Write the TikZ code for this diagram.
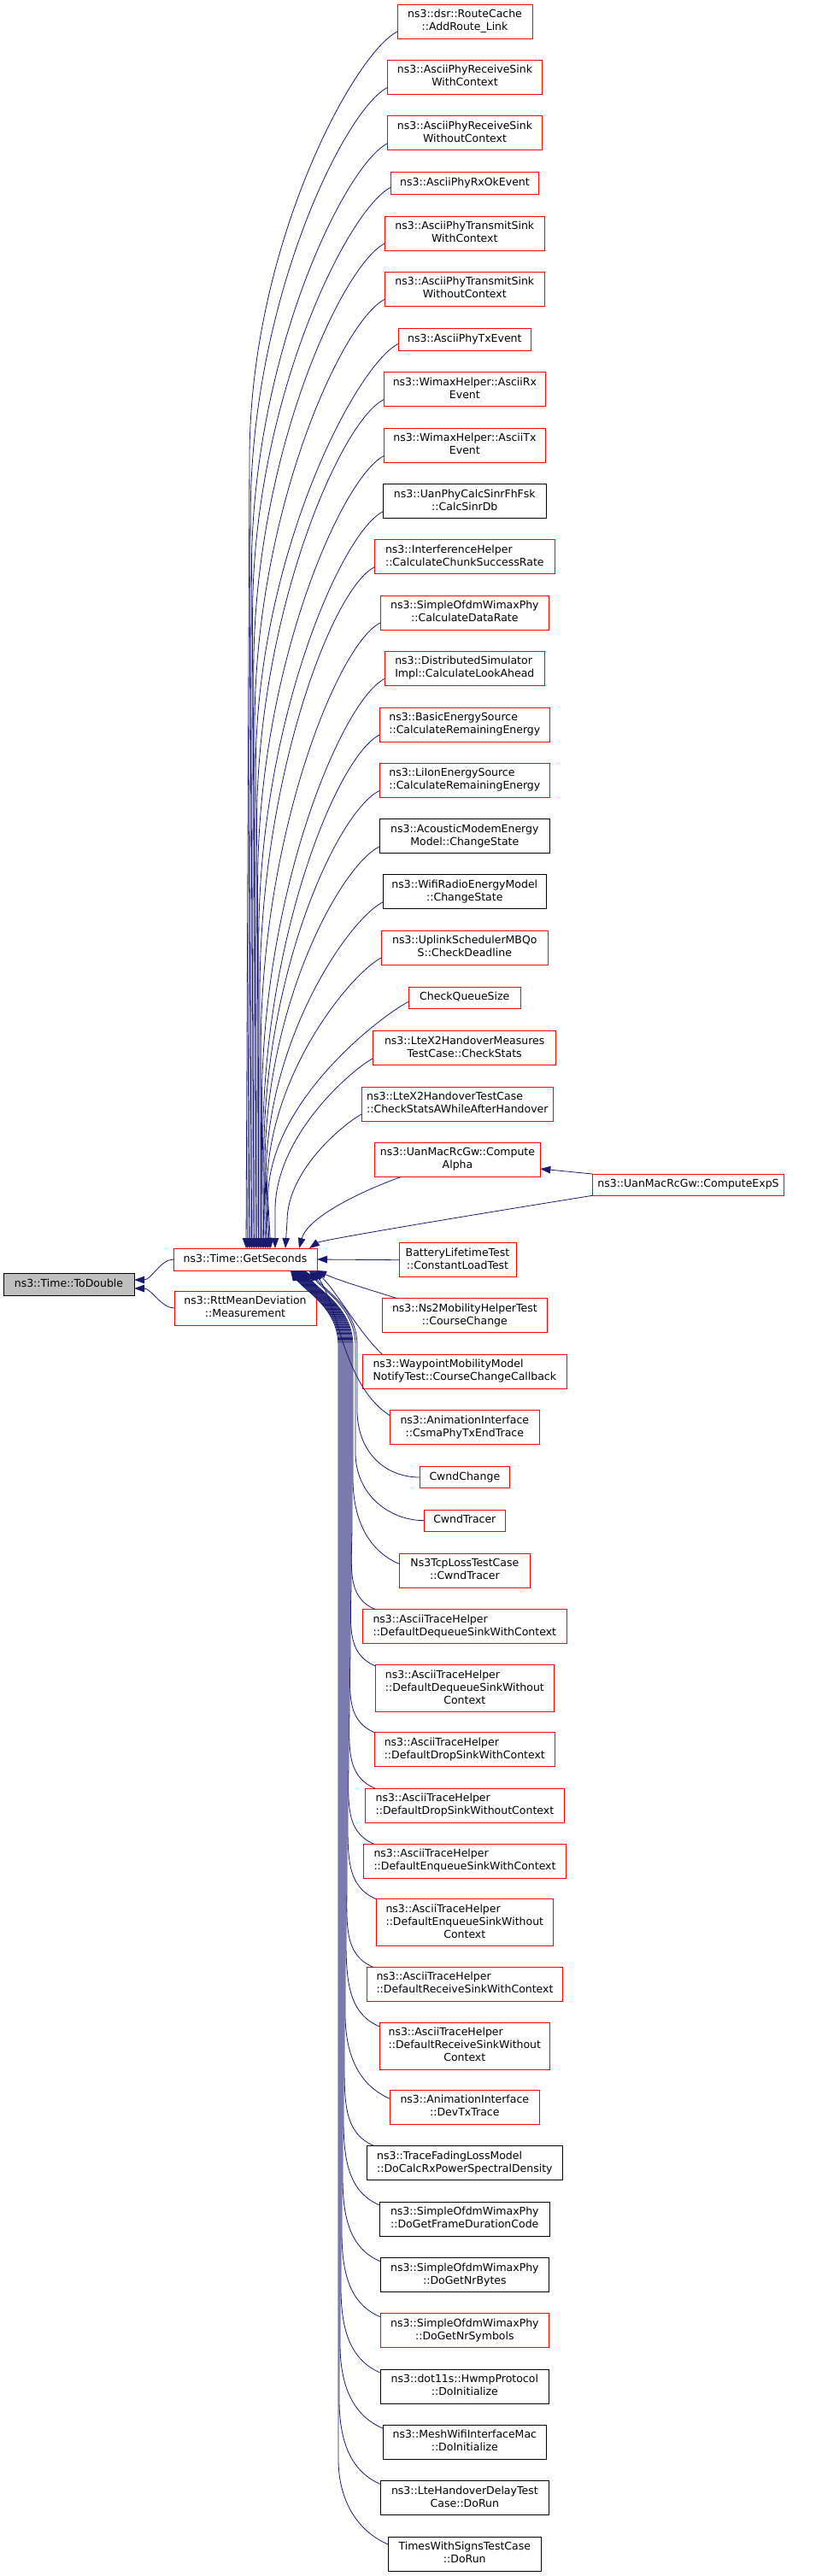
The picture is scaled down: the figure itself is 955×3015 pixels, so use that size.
\documentclass[tikz,border=0pt]{standalone}
\usepackage{fontspec}
\setmainfont{DejaVu Sans}
\usetikzlibrary{arrows.meta}
\definecolor{edgecol}{HTML}{191970}
\definecolor{redc}{HTML}{FF0000}
\definecolor{grayf}{HTML}{BFBFBF}
\newcommand\Lone[1]{\begin{tabular}{@{}c@{}}#1\end{tabular}}
\newcommand\Ltwo[2]{\begin{tabular}{@{}l@{}}#1\\\multicolumn{1}{@{}c@{}}{#2}\end{tabular}}
\newcommand\Lthree[3]{\begin{tabular}{@{}l@{}}#1\\#2\\\multicolumn{1}{@{}c@{}}{#3}\end{tabular}}
\newcommand\bx[7]{\node[#6, minimum width={#4pt-#2pt}, minimum height={#5pt-#3pt}] (#1) at ({(#2+#4)/2},{(#3+#5)/2}) {#7};}
\newcommand\uedge[4]{%
 \pgfmathsetmacro\uD{min(500,0.8*(1461-#4))}%
 \pgfmathsetmacro\uS{min(1,\uD/400)}%
 \draw[cedge] ([xshift=#2pt]gs.north west) -- (#3,{#4+\uD}) .. controls +(0,{-0.5*\uD}) and +({-50*\uS},{25*\uS}) .. ([yshift=8pt]#1.south west);}
\newcommand\ledge[5]{\draw[cedge] ([xshift=#2pt]gs.south west) .. controls +(15,23) and (#3,1530) .. (#3,1575) -- (#3,{#4-100}) .. controls +(0,50) and +(-35,-15) .. (#5);}
\tikzset{
 nd/.style={draw, line width=1pt, inner sep=0pt, outer sep=0pt, font=\fontsize{12.5}{15}\selectfont},
 rn/.style={nd, draw=redc, fill=white},
 bn/.style={nd, draw=black, fill=white},
 gn/.style={nd, draw=black, fill=grayf},
 cedge/.style={draw=edgecol, line width=0.8pt, {Triangle[length=12pt,width=8.5pt]}-},
}
\begin{document}
\begin{tikzpicture}[x=1pt,y=-1pt]
\useasboundingbox (0,0) rectangle (955,3015);
\bx{r1}{465}{5}{623}{45}{rn}{\Ltwo{ns3::dsr::RouteCache}{::AddRoute\_Link}}
\bx{r2}{453.7}{70.3}{634.3}{110.3}{rn}{\Ltwo{ns3::AsciiPhyReceiveSink}{WithContext}}
\bx{r3}{453.7}{135.7}{634.3}{175.7}{rn}{\Ltwo{ns3::AsciiPhyReceiveSink}{WithoutContext}}
\bx{r4}{457.3}{201.3}{630.7}{227.3}{rn}{\Lone{ns3::AsciiPhyRxOkEvent}}
\bx{r5}{450.3}{253}{637.3}{293}{rn}{\Ltwo{ns3::AsciiPhyTransmitSink}{WithContext}}
\bx{r6}{450.3}{318.3}{637.3}{358.3}{rn}{\Ltwo{ns3::AsciiPhyTransmitSink}{WithoutContext}}
\bx{r7}{466.3}{384.7}{621.3}{410.3}{rn}{\Lone{ns3::AsciiPhyTxEvent}}
\bx{r8}{449}{435.7}{638.7}{475.7}{rn}{\Ltwo{ns3::WimaxHelper::AsciiRx}{Event}}
\bx{r9}{449.7}{501.3}{638}{541.3}{rn}{\Ltwo{ns3::WimaxHelper::AsciiTx}{Event}}
\bx{r10}{448.3}{566.7}{639.3}{606.7}{bn}{\Ltwo{ns3::UanPhyCalcSinrFhFsk}{::CalcSinrDb}}
\bx{r11}{438.3}{631.7}{649.3}{671.7}{rn}{\Ltwo{ns3::InterferenceHelper}{::CalculateChunkSuccessRate}}
\bx{r12}{445}{697}{642.7}{737}{rn}{\Ltwo{ns3::SimpleOfdmWimaxPhy}{::CalculateDataRate}}
\bx{r13}{450.3}{762.3}{637.3}{802.3}{rn}{\Ltwo{ns3::DistributedSimulator}{Impl::CalculateLookAhead}}
\bx{r14}{444.3}{828}{643.3}{868}{rn}{\Ltwo{ns3::BasicEnergySource}{::CalculateRemainingEnergy}}
\bx{r15}{444.3}{893.3}{643.3}{933.3}{rn}{\Ltwo{ns3::LiIonEnergySource}{::CalculateRemainingEnergy}}
\bx{r16}{444.3}{958.7}{643.3}{998.7}{bn}{\Ltwo{ns3::AcousticModemEnergy}{Model::ChangeState}}
\bx{r17}{448.3}{1023.7}{639.3}{1063.7}{bn}{\Ltwo{ns3::WifiRadioEnergyModel}{::ChangeState}}
\bx{r18}{446.3}{1089}{641.3}{1129}{rn}{\Ltwo{ns3::UplinkSchedulerMBQo}{S::CheckDeadline}}
\bx{r19}{478.3}{1155}{609.3}{1180.3}{rn}{\Lone{CheckQueueSize}}
\bx{r20}{436.7}{1206.7}{650.7}{1246.7}{rn}{\Ltwo{ns3::LteX2HandoverMeasures}{TestCase::CheckStats}}
\bx{r21}{423.3}{1272}{647.3}{1312}{rn}{\Ltwo{ns3::LteX2HandoverTestCase}{::CheckStatsAWhileAfterHandover}}
\bx{r22}{438.7}{1337.3}{632.3}{1377.3}{rn}{\Ltwo{ns3::UanMacRcGw::Compute}{Alpha}}
\bx{cx}{693.3}{1374}{917.7}{1399.3}{rn}{\Lone{ns3::UanMacRcGw::ComputeExpS}}
\bx{r23}{467}{1454.7}{604}{1494.7}{rn}{\Ltwo{BatteryLifetimeTest}{::ConstantLoadTest}}
\bx{r24}{447}{1519.7}{640.7}{1559.7}{rn}{\Ltwo{ns3::Ns2MobilityHelperTest}{::CourseChange}}
\bx{r25}{424.3}{1585}{663.3}{1625}{rn}{\Ltwo{ns3::WaypointMobilityModel}{NotifyTest::CourseChangeCallback}}
\bx{r26}{456.3}{1650.7}{631.3}{1690.7}{rn}{\Ltwo{ns3::AnimationInterface}{::CsmaPhyTxEndTrace}}
\bx{r27}{491}{1716.3}{596.7}{1741.7}{rn}{\Lone{CwndChange}}
\bx{r28}{496.3}{1767}{591.3}{1792.3}{rn}{\Lone{CwndTracer}}
\bx{r29}{467}{1818.3}{620.7}{1858.3}{rn}{\Ltwo{Ns3TcpLossTestCase}{::CwndTracer}}
\bx{r30}{424.3}{1883.7}{663.3}{1923.7}{rn}{\Ltwo{ns3::AsciiTraceHelper}{::DefaultDequeueSinkWithContext}}
\bx{r31}{439}{1948.7}{648.7}{2003.7}{rn}{\Lthree{ns3::AsciiTraceHelper}{::DefaultDequeueSinkWithout}{Context}}
\bx{r32}{438.3}{2027.7}{649.3}{2067.7}{rn}{\Ltwo{ns3::AsciiTraceHelper}{::DefaultDropSinkWithContext}}
\bx{r33}{427.7}{2093}{660}{2133}{rn}{\Ltwo{ns3::AsciiTraceHelper}{::DefaultDropSinkWithoutContext}}
\bx{r34}{425.7}{2158.3}{662.3}{2198.3}{rn}{\Ltwo{ns3::AsciiTraceHelper}{::DefaultEnqueueSinkWithContext}}
\bx{r35}{440.3}{2222.7}{647.3}{2277.7}{rn}{\Lthree{ns3::AsciiTraceHelper}{::DefaultEnqueueSinkWithout}{Context}}
\bx{r36}{429.7}{2302.3}{658.3}{2342.3}{rn}{\Ltwo{ns3::AsciiTraceHelper}{::DefaultReceiveSinkWithContext}}
\bx{r37}{444.3}{2367}{643.3}{2422}{rn}{\Lthree{ns3::AsciiTraceHelper}{::DefaultReceiveSinkWithout}{Context}}
\bx{r38}{456.3}{2446.3}{631.3}{2486.3}{rn}{\Ltwo{ns3::AnimationInterface}{::DevTxTrace}}
\bx{r39}{429}{2511.7}{658.7}{2551.7}{bn}{\Ltwo{ns3::TraceFadingLossModel}{::DoCalcRxPowerSpectralDensity}}
\bx{r40}{444.3}{2577}{643.3}{2617}{bn}{\Ltwo{ns3::SimpleOfdmWimaxPhy}{::DoGetFrameDurationCode}}
\bx{r41}{445}{2642.7}{642.7}{2682.7}{bn}{\Ltwo{ns3::SimpleOfdmWimaxPhy}{::DoGetNrBytes}}
\bx{r42}{445}{2707.7}{642.7}{2747.7}{rn}{\Ltwo{ns3::SimpleOfdmWimaxPhy}{::DoGetNrSymbols}}
\bx{r43}{445}{2773}{642.7}{2813}{bn}{\Ltwo{ns3::dot11s::HwmpProtocol}{::DoInitialize}}
\bx{r44}{448.3}{2838.3}{639.3}{2878.3}{bn}{\Ltwo{ns3::MeshWifiInterfaceMac}{::DoInitialize}}
\bx{r45}{445.7}{2903.7}{642}{2943.7}{bn}{\Ltwo{ns3::LteHandoverDelayTest}{Case::DoRun}}
\bx{r46}{454.3}{2969}{633.3}{3009}{bn}{\Ltwo{TimesWithSignsTestCase}{::DoRun}}
\bx{td}{4}{1490}{157}{1516}{gn}{\Lone{ns3::Time::ToDouble}}
\bx{gs}{203}{1461}{371}{1487}{rn}{\Lone{ns3::Time::GetSeconds}}
\bx{rtt}{204}{1511}{370}{1551}{rn}{\Ltwo{ns3::RttMeanDeviation}{::Measurement}}
% edges into ToDouble
\draw[cedge] ([yshift=5pt]td.east) .. controls +(20,0) and +(-15,0) .. (gs.west);
\draw[cedge] ([yshift=-5pt]td.east) .. controls +(20,0) and +(-15,0) .. (rtt.west);
% upper callers
\uedge{r1}{85}{292}{37}
\uedge{r2}{86.6}{293.2}{102.3}
\uedge{r3}{88.2}{294.4}{167.7}
\uedge{r4}{89.8}{295.6}{219.3}
\uedge{r5}{91.4}{296.8}{285}
\uedge{r6}{93}{298}{350.3}
\uedge{r7}{94.6}{299.2}{402.3}
\uedge{r8}{96.2}{300.4}{467.7}
\uedge{r9}{97.8}{301.6}{533.3}
\uedge{r10}{99.4}{302.8}{598.7}
\uedge{r11}{101}{304}{663.7}
\uedge{r12}{102.6}{305.2}{729}
\uedge{r13}{104.2}{306.4}{794.3}
\uedge{r14}{105.8}{307.6}{860}
\uedge{r15}{107.4}{308.8}{925.3}
\uedge{r16}{109}{310}{990.7}
\uedge{r17}{110.6}{311.2}{1055.7}
\uedge{r18}{112.2}{312.4}{1121}
\uedge{r19}{113.8}{313.6}{1172.3}
\uedge{r20}{119}{322}{1238.7}
\uedge{r21}{131}{336}{1304}
\draw[cedge] ([xshift=147pt]gs.north west) .. controls +(10,-36) and +(-50,18) .. ([xshift=31pt]r22.south west);
\draw[cedge] ([xshift=159pt]gs.north west) .. controls +(13,-9) and +(-193,31) .. (cx.south west);
\draw[cedge] ([yshift=-10.7pt]r22.east) -- (cx.north west);
% lower callers
\draw[cedge] (gs.east) -- (r23.west);
\draw[cedge] ([xshift=167pt]gs.south west) .. controls +(30,13) and +(-25,-8) .. ([xshift=18pt]r24.north west);
\draw[cedge] ([xshift=165pt]gs.south west) .. controls +(25,23) and +(-27,-25) .. ([xshift=23pt]r25.north west);
\draw[cedge] ([xshift=163pt]gs.south west) .. controls +(30,40) and +(-55,-35) .. ([yshift=-6pt]r26.north west);
\draw[cedge] ([xshift=161pt]gs.south west) .. controls +(15,23) and (418,1530) .. (418,1575) -- (418,1650) .. controls +(0,50) and +(-40,0) .. (r27.west);
\draw[cedge] ([xshift=159pt]gs.south west) .. controls +(15,23) and (416,1530) .. (416,1575) -- (416,1700) .. controls +(0,50) and +(-40,0) .. (r28.west);
\ledge{r29}{154}{413}{1830}{[yshift=-12pt]r29.north west}
\ledge{r30}{153}{412}{1884}{[xshift=15pt]r30.north west}
\ledge{r31}{152}{411}{1950}{[yshift=-1pt]r31.north west}
\ledge{r32}{151}{410}{2028}{r32.north west}
\ledge{r33}{150}{409}{2093}{[xshift=11pt]r33.north west}
\ledge{r34}{149}{408}{2158}{[xshift=12pt]r34.north west}
\ledge{r35}{148}{407}{2223}{r35.north west}
\ledge{r36}{147}{406}{2302}{[xshift=7pt]r36.north west}
\ledge{r37}{146}{405}{2372}{[yshift=-5pt]r37.north west}
\ledge{r38}{145}{404}{2457}{[yshift=-10pt]r38.north west}
\ledge{r39}{144}{403}{2512}{[xshift=9pt]r39.north west}
\ledge{r40}{143}{402}{2581}{[yshift=-4pt]r40.north west}
\ledge{r41}{142}{401}{2647}{[yshift=-4pt]r41.north west}
\ledge{r42}{141}{400}{2712}{[yshift=-4pt]r42.north west}
\ledge{r43}{140}{399}{2777}{[yshift=-4pt]r43.north west}
\ledge{r44}{139}{398}{2843}{[yshift=-4pt]r44.north west}
\ledge{r45}{138}{397}{2908}{[yshift=-4pt]r45.north west}
\ledge{r46}{137}{396}{2978}{[yshift=-9pt]r46.north west}
\end{tikzpicture}
\end{document}
